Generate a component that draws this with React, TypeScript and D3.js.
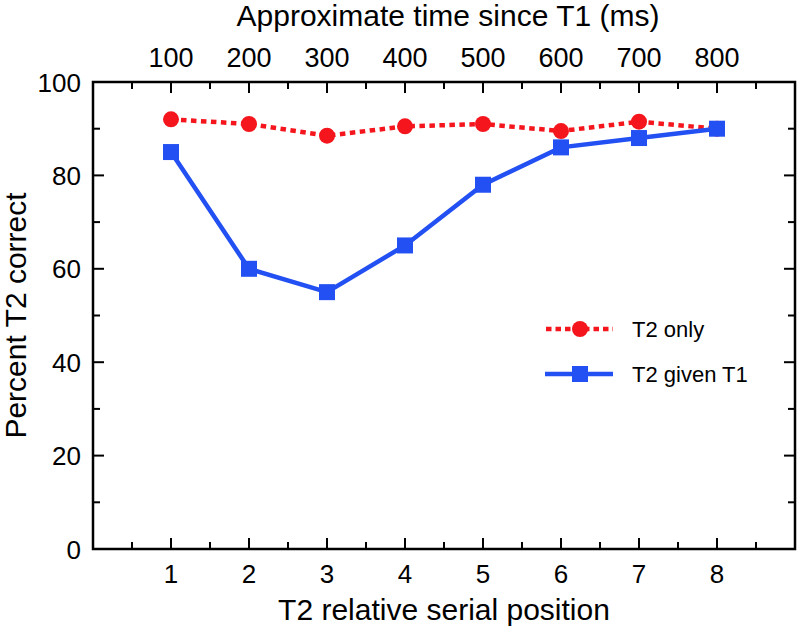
import React from "react";
import * as d3 from "d3";

const positions = [1, 2, 3, 4, 5, 6, 7, 8];
const timeLabels = ["100", "200", "300", "400", "500", "600", "700", "800"];
const t2Only = [92, 91, 88.5, 90.5, 91, 89.5, 91.5, 90];
const t2GivenT1 = [85, 60, 55, 65, 78, 86, 88, 90];
const yTicks = [0, 20, 40, 60, 80, 100];
const yMinor = [10, 30, 50, 70, 90];
const xMinor = [0.5, 1.5, 2.5, 3.5, 4.5, 5.5, 6.5, 7.5, 8.5];

const W = 800, H = 628;
const L = 93, R = 795, T = 82, B = 549;
const RED = "#f5151c";
const BLUE = "#2350f2";
const FONT = "'Liberation Sans', Arial, Helvetica, sans-serif";

export default function App() {
  const x = d3.scaleLinear().domain([0, 9]).range([L, R]);
  const y = d3.scaleLinear().domain([0, 100]).range([B, T]);
  const line = d3.line<number>().x((_, i) => x(positions[i])).y((d) => y(d));
  const MAJ = 11, MIN = 7;

  return (
    <svg width={W} height={H} style={{ position: "absolute", left: 0, top: 0, background: "#fff" }} fontFamily={FONT}>
      {/* ticks */}
      <g stroke="#000" strokeWidth={2}>
        {positions.map((p) => (
          <g key={"xm" + p}>
            <line x1={x(p)} x2={x(p)} y1={B} y2={B - MAJ} />
            <line x1={x(p)} x2={x(p)} y1={T} y2={T + MAJ} />
          </g>
        ))}
        {xMinor.map((p) => (
          <g key={"xn" + p}>
            <line x1={x(p)} x2={x(p)} y1={B} y2={B - MIN} />
            <line x1={x(p)} x2={x(p)} y1={T} y2={T + MIN} />
          </g>
        ))}
        {yTicks.map((v) => (
          <g key={"ym" + v}>
            <line x1={L} x2={L + MAJ} y1={y(v)} y2={y(v)} />
            <line x1={R} x2={R - MAJ} y1={y(v)} y2={y(v)} />
          </g>
        ))}
        {yMinor.map((v) => (
          <g key={"yn" + v}>
            <line x1={L} x2={L + MIN} y1={y(v)} y2={y(v)} />
            <line x1={R} x2={R - MIN} y1={y(v)} y2={y(v)} />
          </g>
        ))}
      </g>
      <rect x={L} y={T} width={R - L} height={B - T} fill="none" stroke="#000" strokeWidth={2.5} />

      {/* tick labels */}
      {positions.map((p) => (
        <text key={"xl" + p} x={x(p)} y={583} fontSize={26} textAnchor="middle">{p}</text>
      ))}
      {positions.map((p, i) => (
        <text key={"tl" + p} x={x(p)} y={67} fontSize={27} textAnchor="middle">{timeLabels[i]}</text>
      ))}
      {yTicks.map((v) => (
        <text key={"yl" + v} x={81} y={y(v) + 9.5} fontSize={26} textAnchor="end">{v}</text>
      ))}

      {/* axis titles */}
      <text x={(L + R) / 2 + 4} y={26} fontSize={30} textAnchor="middle">Approximate time since T1 (ms)</text>
      <text x={(L + R) / 2} y={620} fontSize={30} textAnchor="middle">T2 relative serial position</text>
      <text transform={`translate(26,${(T + B) / 2}) rotate(-90)`} fontSize={30} textAnchor="middle">Percent T2 correct</text>

      {/* series */}
      <path d={line(t2Only) || ""} fill="none" stroke={RED} strokeWidth={4.5} strokeDasharray="5.5 4.5" />
      <path d={line(t2GivenT1) || ""} fill="none" stroke={BLUE} strokeWidth={4.5} />
      {t2Only.map((v, i) => (
        <circle key={"c" + i} cx={x(positions[i])} cy={y(v)} r={8} fill={RED} />
      ))}
      {t2GivenT1.map((v, i) => (
        <rect key={"s" + i} x={x(positions[i]) - 8} y={y(v) - 8} width={16} height={16} fill={BLUE} />
      ))}

      {/* legend */}
      <line x1={546} x2={613} y1={329} y2={329} stroke={RED} strokeWidth={4.5} strokeDasharray="5.5 4" />
      <circle cx={580} cy={329} r={8} fill={RED} />
      <text x={632} y={337} fontSize={22}>T2 only</text>
      <line x1={545} x2={613} y1={374} y2={374} stroke={BLUE} strokeWidth={4.5} />
      <rect x={572} y={366} width={16} height={16} fill={BLUE} />
      <text x={632} y={382} fontSize={22}>T2 given T1</text>
    </svg>
  );
}
